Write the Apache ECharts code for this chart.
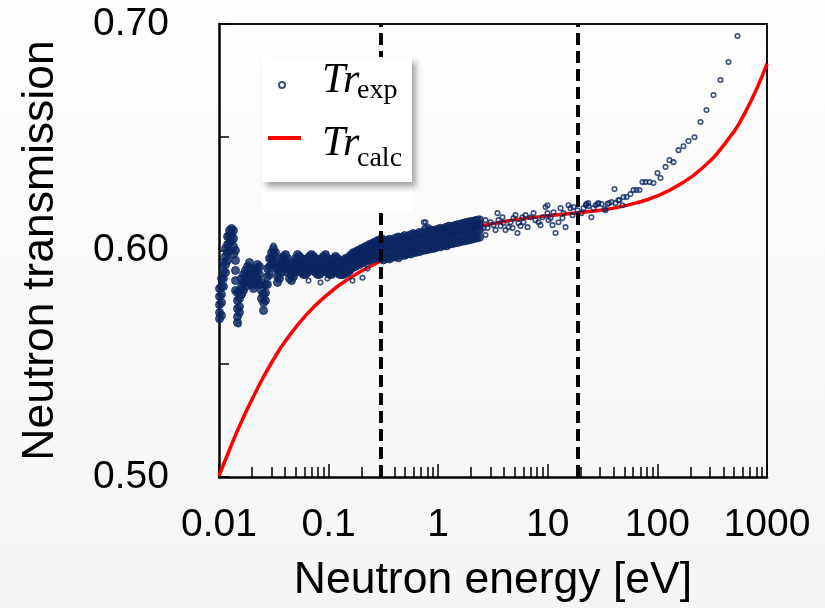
<!DOCTYPE html>
<html><head><meta charset="utf-8">
<script src="https://cdn.jsdelivr.net/npm/echarts@6/dist/echarts.min.js"></script>
<style>html,body{margin:0;padding:0;background:#fafafa}#c{width:825px;height:608px}</style>
</head><body><div id="c"></div>
<script>
// Dense low-energy band: energies and the transmissions measured around each energy
const bandE = [0.01011,0.01054,0.01099,0.01146,0.01196,0.01247,0.01300,0.01356,0.01414,0.01475,0.01538,0.01604,0.01673,0.01745,0.01820,0.01898,0.01979,0.02064,0.02153,0.02245,0.02342,0.02442,0.02547,0.02656,0.02770,0.02889,0.03013,0.03142,0.03277,0.03418,0.03565,0.03718,0.03877,0.04044,0.04217,0.04398,0.04587,0.04784,0.04989,0.05203,0.05426,0.05659,0.05902,0.06155,0.06419,0.06695,0.06982,0.07282,0.07594,0.07920,0.08260,0.08614,0.08984,0.09370,0.09772,0.1019,0.1063,0.1109,0.1156,0.1206,0.1258,0.1312,0.1368,0.1427,0.1488,0.1551,0.1618,0.1688,0.1760,0.1836,0.1914,0.1996,0.2082,0.2171,0.2265,0.2362,0.2463,0.2569,0.2679,0.2794,0.2914,0.3039];
const bandT = [
[0.5832,0.5797,0.5761,0.5726,0.5699],[0.5876,0.5841,0.5806,0.5770,0.5713],[0.5947,0.5912,0.5876,0.5841],[0.6009,0.5974,0.5938,0.5903],
[0.6062,0.6027,0.5991,0.5956],[0.6088,0.6062,0.6035,0.6000],[0.6097,0.6071,0.6044],[0.6088,0.6053,0.6018,0.5982],
[0.6000,0.5956,0.5912,0.5867,0.5823],[0.5814,0.5779,0.5744,0.5708,0.5682],[0.5823,0.5788,0.5752,0.5726],[0.5876,0.5841,0.5806],
[0.5894,0.5859,0.5823],[0.5912,0.5876,0.5841],[0.5929,0.5894,0.5859],[0.5947,0.5920,0.5885],
[0.5920,0.5885,0.5850],[0.5894,0.5859,0.5832],[0.5920,0.5885,0.5850],[0.5938,0.5912,0.5876],
[0.5929,0.5894,0.5850],[0.5859,0.5823,0.5788],[0.5806,0.5770,0.5735],[0.5850,0.5814,0.5779],
[0.5920,0.5885,0.5850],[0.5965,0.5929,0.5894],[0.5991,0.5965,0.5938],[0.6009,0.5982,0.5947],
[0.5991,0.5956,0.5920],[0.5920,0.5885,0.5859],[0.5929,0.5903,0.5876],[0.5965,0.5938,0.5903],
[0.5974,0.5947,0.5920],[0.5982,0.5956,0.5920],[0.5965,0.5929,0.5903],[0.5938,0.5912,0.5876],
[0.5929,0.5894,0.5867],[0.5947,0.5920,0.5885],[0.5965,0.5938,0.5903],[0.5982,0.5947,0.5920],
[0.5974,0.5938,0.5912],[0.5965,0.5929,0.5903],[0.5947,0.5920,0.5894],[0.5956,0.5929,0.5894],
[0.5965,0.5929,0.5903],[0.5974,0.5947,0.5912],[0.5982,0.5947,0.5920],[0.5974,0.5947,0.5912],
[0.5965,0.5929,0.5903],[0.5956,0.5920,0.5894],[0.5956,0.5929,0.5894],[0.5965,0.5929,0.5903],
[0.5974,0.5938,0.5912],[0.5982,0.5947,0.5912],[0.5965,0.5938,0.5903],[0.5956,0.5920,0.5894],
[0.5947,0.5920,0.5894],[0.5965,0.5929,0.5903],[0.5974,0.5938,0.5912],[0.5965,0.5938,0.5903],
[0.5956,0.5920,0.5894],[0.5947,0.5920,0.5894],[0.5956,0.5929,0.5894],[0.5965,0.5929,0.5903],
[0.5965,0.5938,0.5903],[0.5974,0.5938,0.5912],[0.5982,0.5956,0.5920],[0.5991,0.5956,0.5929],
[0.5991,0.5965,0.5929],[0.6000,0.5965,0.5938],[0.6000,0.5974,0.5938],[0.6009,0.5974,0.5947],
[0.6009,0.5982,0.5947],[0.6018,0.5982,0.5956],[0.6018,0.5982,0.5956],[0.6027,0.5991,0.5956],
[0.6027,0.5991,0.5965],[0.6035,0.6000,0.5965],[0.6035,0.6000,0.5965],[0.6044,0.6009,0.5974],
[0.6044,0.6009,0.5974],[0.6053,0.6009,0.5965]
];
// Dense middle band
const midE = [0.3169,0.3375,0.3594,0.3828,0.4077,0.4343,0.4625,0.4926,0.5246,0.5588,0.5951,0.6339,0.6751,0.7190,0.7658,0.8156,0.8687,0.9252,0.9854,1.0495,1.1178,1.1905,1.268,1.3505,1.4383,1.5319,1.6315,1.7378,1.8508,1.9712,2.0995,2.2361,2.3815];
const midT = [
[0.5958,0.5985,0.6012,0.6040],[0.5965,0.5990,0.6018,0.6045],[0.5962,0.5996,0.6020,0.6050],[0.5970,0.5999,0.6024,0.6047],
[0.5972,0.6004,0.6027,0.6055],[0.5968,0.6002,0.6031,0.6060],[0.5980,0.6008,0.6030,0.6058],[0.5978,0.6010,0.6036,0.6066],
[0.5985,0.6012,0.6040,0.6062],[0.5984,0.6018,0.6038,0.6070],[0.5990,0.6020,0.6045,0.6075],[0.5992,0.6022,0.6048,0.6072],
[0.5995,0.6027,0.6050,0.6080],[0.6000,0.6030,0.6055,0.6078],[0.6002,0.6032,0.6058,0.6095],[0.6005,0.6035,0.6060,0.6085],
[0.6008,0.6040,0.6062,0.6090],[0.6010,0.6042,0.6066,0.6088],[0.6015,0.6045,0.6070,0.6094],[0.6016,0.6048,0.6072,0.6098],
[0.6022,0.6050,0.6076,0.6096],[0.6020,0.6055,0.6080,0.6104],[0.6028,0.6058,0.6082,0.6108],[0.6030,0.6060,0.6085,0.6106],
[0.6034,0.6062,0.6090,0.6112],[0.6036,0.6068,0.6092,0.6115],[0.6040,0.6070,0.6095,0.6118],[0.6042,0.6075,0.6098,0.6122],
[0.6045,0.6076,0.6100,0.6125],[0.6048,0.6080,0.6104,0.6128],[0.6052,0.6082,0.6108,0.6130],[0.6055,0.6086,0.6110,0.6134],
[0.6058,0.6090,0.6112,0.6136]
];
// Individually visible points [energy eV, transmission]
const sparsePoints = [
[0.01506,0.5673],[0.0656,0.5867],[0.0977,0.5876],[0.1653,0.5867],[0.2038,0.5880],[0.0844,0.5859],[0.0314,0.6022],[0.2265,0.5920],
[0.766,0.6125],[0.74,0.6125],[0.8156,0.6103],
[2.432,0.6121],[2.590,0.6099],[2.702,0.6068],[2.702,0.6134],[3.001,0.6125],[3.196,0.6112],[3.476,0.6165],[3.549,0.6134],
[3.861,0.6147],[3.943,0.6121],[4.112,0.6090],[4.380,0.6103],[4.568,0.6125],[4.865,0.6143],[5.074,0.6156],[5.291,0.6077],
[5.404,0.6121],[5.877,0.6147],[6.002,0.6125],[6.530,0.6103],[6.953,0.6147],[7.406,0.6165],[7.724,0.6134],[8.227,0.6125],
[8.946,0.6147],[9.528,0.6192],[9.938,0.6165],[10.58,0.6143],[11.27,0.6169],[11.76,0.6077],[12.52,0.6125],[13.06,0.6187],
[13.91,0.6165],[14.51,0.6103],[15.45,0.6200],[16.11,0.6187],[17.16,0.6192],[18.66,0.6178],
[2.818,0.6099],[3.333,0.6090],[3.702,0.6108],[4.764,0.6099],[5.635,0.6108],[6.259,0.6156],[8.579,0.6112],[10.15,0.6134],
[11.04,0.6112],[13.62,0.6143],[16.80,0.6156],[9.94,0.6200],
[20.3,0.6165],[21.2,0.6187],[22.3,0.6200],[22.5,0.6205],[23.4,0.6209],[23.5,0.6196],[25.0,0.6147],[26.1,0.6187],
[27.3,0.6200],[28.4,0.6205],[29.0,0.6209],[30.9,0.6205],[32.9,0.6183],[33.6,0.6178],[35.0,0.6205],[36.1,0.6209],
[38.1,0.6214],[40.6,0.6271],[41.5,0.6209],[44.0,0.6222],[45.1,0.6223],[47.9,0.6200],[49.1,0.6236],[52.3,0.6236],
[56.8,0.6249],[60.5,0.6267],[64.5,0.6267],[68.7,0.6267],[73.1,0.6302],[77.9,0.6302],[84.7,0.6302],[92.1,0.6298],
[100.2,0.6342],[106.7,0.6320],[118.6,0.6369],[128.9,0.6399],[140.3,0.6390],[155.8,0.6443],[173.0,0.6460],[192.2,0.6483],
[218.0,0.6500],[247.4,0.6567],[280.5,0.6620],[325.0,0.6686],[376.5,0.6753],[445.4,0.6832],[538.1,0.6947]
];
// Calculated transmission
const calcE = [0.01,0.0126,0.0158,0.02,0.0251,0.0316,0.0398,0.0631,0.1,0.158,0.251,0.398,0.631,1,1.585,2.512,3.981,6.31,10,15.85,25.12,39.81,63.1,100,158.5,251.2,398.1,631,1000];
const calcT = [0.5005,0.5126,0.5238,0.5342,0.5436,0.5521,0.5596,0.5718,0.5810,0.5880,0.5935,0.5981,0.6020,0.6054,0.6084,0.6109,0.6128,0.6142,0.6153,0.6163,0.6173,0.6187,0.6209,0.6241,0.6290,0.6360,0.6462,0.6609,0.6825];
const cutEnergies = [0.3, 18.8];
const xTickLabels = ['0.01','0.1','1','10','100','1000'];
const yTickLabels = ['0.50','','0.60','','0.70'];
const minorTickValues = [0.02,0.03,0.04,0.05,0.06,0.07,0.08,0.09,0.2,0.3,0.4,0.5,0.6,0.7,0.8,0.9,2,3,4,5,6,7,8,9,20,30,40,50,60,70,80,90,200,300,400,500,600,700,800,900];
const legendMain = ['Tr', 'Tr'];
const legendSub = ['exp', 'calc'];

const denseData = [];
bandE.forEach((e,i)=>bandT[i].forEach(t=>denseData.push([e,t])));
midE.forEach((e,i)=>midT[i].forEach(t=>denseData.push([e,t])));
const calcData = calcE.map((e,i)=>[e,calcT[i]]);

const FONT = 'Liberation Sans, Arial, sans-serif';
const NAVY = '#0a2561';

function legendText(txt, x, y, italic, size) {
  return {type:'text', x:x, y:y, z:31, silent:true,
    style:{text:txt, font:(italic?'italic ':'')+size+'px "Liberation Serif", "Times New Roman", serif',
      fill:'#000', align:'left', verticalAlign:'middle', textAlign:'left', textVerticalAlign:'middle'}};
}

const chart = echarts.init(document.getElementById('c'), null, {renderer:'canvas'});
chart.setOption({
  animation: false,
  backgroundColor: {type:'linear', x:0, y:0, x2:0, y2:1, colorStops:[{offset:0,color:'#fefefe'},{offset:1,color:'#f5f5f5'}]},
  grid: {left:219, right:58, top:24, bottom:131, containLabel:false},
  xAxis: [
    {type:'log', logBase:10, min:0.01, max:1000, position:'bottom',
     name:'Neutron energy [eV]', nameLocation:'middle', nameGap:81,
     nameTextStyle:{fontSize:44.5, color:'#000', fontFamily:FONT},
     axisLine:{show:true, onZero:false, lineStyle:{color:'#000', width:2.5}},
     axisTick:{show:true, inside:true, length:13, lineStyle:{color:'#000', width:1.5}},
     axisLabel:{fontSize:39, color:'#000', fontFamily:FONT, margin:29,
       formatter:v=>xTickLabels[Math.round(Math.log10(v)+2)] || ''},
     splitLine:{show:false}, minorTick:{show:false}},
    {type:'value', min:-2, max:3, position:'bottom',
     axisLine:{show:false, onZero:false}, axisLabel:{show:false}, splitLine:{show:false},
     axisTick:{show:true, inside:true, length:10, customValues: minorTickValues.map(v=>Math.log10(v)), lineStyle:{color:'#000', width:1.5}}},
    {type:'value', min:0, max:1, position:'top',
     axisLine:{show:true, onZero:false, lineStyle:{color:'#111', width:2}}, axisTick:{show:false}, axisLabel:{show:false}, splitLine:{show:false}}
  ],
  yAxis: [
    {type:'value', min:0.5, max:0.7, interval:0.05, position:'left',
     name:'Neutron transmission', nameLocation:'middle', nameGap:156,
     nameTextStyle:{fontSize:44.5, color:'#000', fontFamily:FONT},
     axisLine:{show:true, onZero:false, lineStyle:{color:'#000', width:2.5}},
     axisTick:{show:true, inside:true, length:10, lineStyle:{color:'#000', width:1.5}},
     axisLabel:{fontSize:39, color:'#000', fontFamily:FONT, margin:50,
       formatter:v=>yTickLabels[Math.round((v-0.5)/0.05)] || ''},
     splitLine:{show:false}},
    {type:'value', min:0, max:1, position:'right',
     axisLine:{show:true, onZero:false, lineStyle:{color:'#111', width:2}}, axisTick:{show:false}, axisLabel:{show:false}, splitLine:{show:false}}
  ],
  legend: [
    {data:[{name:'Tr_exp', icon:'circle'}], left:278, top:81, padding:0, itemWidth:6, itemHeight:6,
     formatter:()=>'', textStyle:{fontSize:2}, z:30},
    {data:[{name:'Tr_calc', icon:'rect', itemStyle:{color:'#ff0000'}}], left:268, top:136, padding:0, itemWidth:33, itemHeight:4,
     formatter:()=>'', textStyle:{fontSize:2}, z:30}
  ],
  graphic: [
    {type:'rect', shape:{x:262, y:182, width:150, height:30}, style:{fill:'#ffffff'}, z:8, silent:true},
    {type:'rect', shape:{x:262, y:57, width:150, height:125},
     style:{fill:'#ffffff', shadowBlur:6, shadowOffsetX:4, shadowOffsetY:5, shadowColor:'rgba(0,0,0,0.35)'}, z:20, silent:true},
    legendText(legendMain[0], 322, 80.8, true, 42),
    legendText(legendSub[0], 357, 90.5, false, 28),
    legendText(legendMain[1], 322, 143.8, true, 42),
    legendText(legendSub[1], 357, 158.5, false, 28)
  ],
  series: [
    {name:'Tr_calc', type:'line', data:calcData, xAxisIndex:0, yAxisIndex:0, symbol:'none', smooth:true,
     lineStyle:{color:'#ff0000', width:3.5}, itemStyle:{color:'#ff0000'}, z:2},
    {name:'Tr_exp', type:'scatter', data:sparsePoints, xAxisIndex:0, yAxisIndex:0, symbol:'circle', symbolSize:4.5,
     itemStyle:{color:'rgba(255,255,255,0)', borderColor:NAVY, borderWidth:1.6}, z:3},
    {name:'Tr_exp', type:'scatter', data:denseData, xAxisIndex:0, yAxisIndex:0, symbol:'circle', symbolSize:8,
     itemStyle:{color:NAVY, borderColor:NAVY, borderWidth:1}, z:3},
    {name:'cuts', type:'line', data:[], xAxisIndex:0, yAxisIndex:0, z:5,
     markLine:{silent:true, symbol:'none', label:{show:false}, animation:false,
       lineStyle:{color:'#000', width:4, type:[12,6]},
       data: cutEnergies.map(e=>({xAxis:e}))}}
  ]
});
</script></body></html>
